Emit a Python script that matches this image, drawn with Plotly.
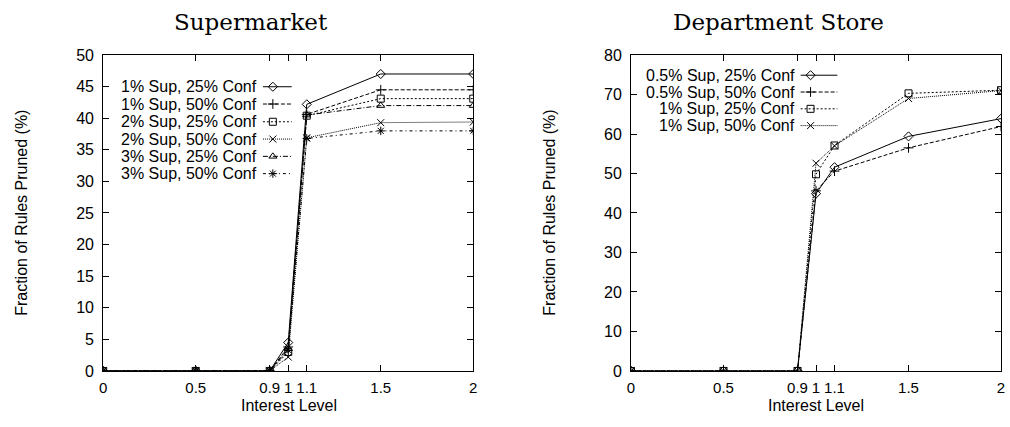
import plotly.graph_objects as go

# ---------------- data ----------------
interest = [0, 0.5, 0.9, 1.0, 1.1, 1.5, 2.0]
x_tickvals = [0, 0.5, 0.9, 1.0, 1.1, 1.5, 2.0]
x_ticktext = ["0", "0.5", "0.9", "1", "1.1", "1.5", "2"]

super_names = ["1% Sup, 25% Conf", "1% Sup, 50% Conf", "2% Sup, 25% Conf",
               "2% Sup, 50% Conf", "3% Sup, 25% Conf", "3% Sup, 50% Conf"]
sup_1_25 = [0, 0, 0, 4.5, 42.2, 47.0, 47.0]
sup_1_50 = [0, 0, 0, 3.8, 40.6, 44.5, 44.5]
sup_2_25 = [0, 0, 0, 3.0, 40.4, 43.1, 43.1]
sup_2_50 = [0, 0, 0, 2.2, 36.9, 39.3, 39.4]
sup_3_25 = [0, 0, 0, 3.5, 40.5, 42.0, 42.0]
sup_3_50 = [0, 0, 0, 3.3, 36.8, 38.0, 38.0]

dept_names = ["0.5% Sup, 25% Conf", "0.5% Sup, 50% Conf", "1% Sup, 25% Conf", "1% Sup, 50% Conf"]
dep_05_25 = [0, 0, 0, 44.9, 51.6, 59.4, 63.9]
dep_05_50 = [0, 0, 0, 45.6, 50.6, 56.5, 61.9]
dep_1_25 = [0, 0, 0, 49.8, 57.1, 70.3, 71.1]
dep_1_50 = [0, 0, 0, 52.6, 57.0, 69.0, 71.0]

super_series = [sup_1_25, sup_1_50, sup_2_25, sup_2_50, sup_3_25, sup_3_50]
dept_series = [dep_05_25, dep_05_50, dep_1_25, dep_1_50]

# ---------------- styles ----------------
W, H = 1010, 427
styles = [
    dict(dash="solid", symbol="diamond-open"),
    dict(dash="4px,2px", symbol="cross-thin-open"),
    dict(dash="2px,2px", symbol="square-open"),
    dict(dash="1px,1px", symbol="x-thin-open"),
    dict(dash="5px,2px,1px,2px", symbol="triangle-up-open"),
    dict(dash="3px,3px,1px,3px", symbol="asterisk-open"),
]

def px_x(p):
    return p / W

def px_y(p):
    return 1 - p / H

fig = go.Figure()

def add_series(ys, st, xa, ya):
    fig.add_trace(go.Scatter(
        x=interest, y=ys, mode="lines+markers", xaxis=xa, yaxis=ya,
        line=dict(color="black", width=1, dash=st["dash"]),
        marker=dict(symbol=st["symbol"], size=7, color="black",
                    line=dict(color="black", width=1)),
        showlegend=False, hoverinfo="skip"))

for ys, st in zip(super_series, styles):
    add_series(ys, st, "x", "y")
for ys, st in zip(dept_series, styles):
    add_series(ys, st, "x2", "y2")

# ---------------- manual legends (text left, sample right) ----------------
annotations = []

def add_legend(names, text_right, line_x0, line_x1, mark_x, rows):
    for name, st, ry in zip(names, styles, rows):
        fig.add_trace(go.Scatter(
            x=[line_x0, line_x1], y=[ry, ry], mode="lines", xaxis="x3", yaxis="y3",
            line=dict(color="black", width=1, dash=st["dash"]),
            showlegend=False, hoverinfo="skip"))
        fig.add_trace(go.Scatter(
            x=[mark_x], y=[ry], mode="markers", xaxis="x3", yaxis="y3",
            marker=dict(symbol=st["symbol"], size=7, color="black",
                        line=dict(color="black", width=1)),
            showlegend=False, hoverinfo="skip"))
        annotations.append(dict(
            text=name, x=px_x(text_right), y=px_y(ry), xref="paper", yref="paper",
            xanchor="right", yanchor="middle", showarrow=False,
            font=dict(family="Liberation Sans, Arial, sans-serif", size=16, color="black")))

add_legend(super_names, 257, 261, 290, 271, [82, 100, 118.5, 136.5, 154.5, 172.5])
add_legend(dept_names, 799, 803, 840, 813, [70, 87.5, 105, 122.5])

# ---------------- titles and axis labels ----------------
title_font = dict(family="DejaVu Serif, serif", size=23, color="black")
label_font = dict(family="Liberation Sans, Arial, sans-serif", size=16, color="black")
xtick_font = dict(family="Liberation Sans, Arial, sans-serif", size=15, color="black")
annotations += [
    dict(text="Supermarket", x=px_x(249), y=px_y(15), xref="paper", yref="paper",
         xanchor="center", yanchor="middle", showarrow=False, font=title_font),
    dict(text="Department Store", x=px_x(781), y=px_y(15), xref="paper", yref="paper",
         xanchor="center", yanchor="middle", showarrow=False, font=title_font),
    dict(text="Interest Level", x=px_x(287), y=px_y(414), xref="paper", yref="paper",
         xanchor="center", yanchor="middle", showarrow=False, font=label_font),
    dict(text="Interest Level", x=px_x(818), y=px_y(414), xref="paper", yref="paper",
         xanchor="center", yanchor="middle", showarrow=False, font=label_font),
    dict(text="Fraction of Rules Pruned (%)", x=px_x(17), y=px_y(213.5), xref="paper",
         yref="paper", xanchor="center", yanchor="middle", showarrow=False,
         textangle=-90, font=label_font),
    dict(text="Fraction of Rules Pruned (%)", x=px_x(549), y=px_y(213.5), xref="paper",
         yref="paper", xanchor="center", yanchor="middle", showarrow=False,
         textangle=-90, font=label_font),
]

ydom = [1 - 378 / H, 1 - 49 / H]
common_axis = dict(showline=True, linecolor="black", linewidth=1, mirror="ticks",
                   ticks="inside", ticklen=6, tickcolor="black", tickwidth=1,
                   showgrid=False, zeroline=False)

fig.update_layout(
    width=W, height=H, margin=dict(l=0, r=0, t=0, b=0),
    paper_bgcolor="white", plot_bgcolor="rgba(0,0,0,0)",
    showlegend=False, annotations=annotations,
    xaxis=dict(domain=[100 / W, 473 / W], range=[0, 2], tickvals=x_tickvals,
               ticktext=x_ticktext, tickangle=0, anchor="y", ticklabelstandoff=3,
               tickfont=xtick_font, **common_axis),
    yaxis=dict(domain=ydom, range=[0, 50], dtick=5, tick0=0, anchor="x",
               ticklabelstandoff=5, tickfont=label_font, **common_axis),
    xaxis2=dict(domain=[632 / W, 1005 / W], range=[0, 2], tickvals=x_tickvals,
                ticktext=x_ticktext, tickangle=0, anchor="y2", ticklabelstandoff=3,
                tickfont=xtick_font, **common_axis),
    yaxis2=dict(domain=ydom, range=[0, 80], dtick=10, tick0=0, anchor="x2",
                ticklabelstandoff=5, tickfont=label_font, **common_axis),
    xaxis3=dict(domain=[0, 1], range=[0, W], visible=False, anchor="y3", fixedrange=True),
    yaxis3=dict(domain=[0, 1], range=[H, 0], visible=False, anchor="x3", fixedrange=True),
)

fig.write_html("out.html")
